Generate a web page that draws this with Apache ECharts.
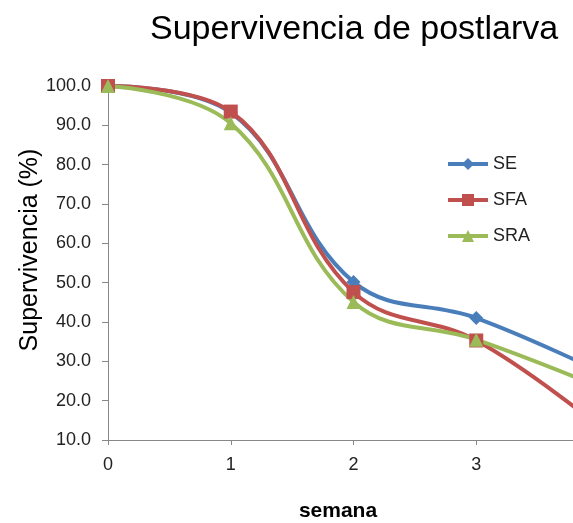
<!DOCTYPE html>
<html>
<head>
<meta charset="utf-8">
<script src="https://cdn.jsdelivr.net/npm/echarts@6/dist/echarts.min.js"></script>
<style>
html, body { margin: 0; padding: 0; background: #fff; overflow: hidden; width: 573px; height: 523px; }
/* the drawing is wider than the window so week 4 falls just past the right edge */
#chart { width: 610px; height: 523px; }
</style>
</head>
<body>
<div id="chart"></div>
<script>
// Survival (%) of postlarvae per week for each treatment
const semanas = [0, 1, 2, 3, 4];
const seValues = [100.0, 93.2, 50.2, 41.0, 27.5];
const sfaValues = [100.0, 93.5, 47.6, 35.3, 13.5];
const sraValues = [100.0, 90.5, 45.1, 35.5, 23.5];
const yTicks = { min: 10, max: 100, step: 10 };

const FONT = '"Liberation Sans", Arial, sans-serif';

function pairs(values) {
  return semanas.map((s, i) => [s, values[i]]);
}

function lineSeries(name, values, color, symbol, size) {
  return {
    name: name,
    type: 'line',
    data: pairs(values),
    smooth: 0.4,
    symbol: symbol,
    symbolSize: size,
    lineStyle: { width: 4, color: color },
    itemStyle: { color: color },
    emphasis: { disabled: true }
  };
}

const chart = echarts.init(document.getElementById('chart'), null, { renderer: 'canvas' });

chart.setOption({
  animation: false,
  backgroundColor: '#ffffff',
  title: [
    {
      text: 'Supervivencia de postlarva',
      left: 145,
      top: 8,
      textStyle: { fontFamily: FONT, fontSize: 34, fontWeight: 'normal', color: '#000' }
    },
    {
      text: 'semana',
      left: 333,
      top: 496,
      textAlign: 'center',
      textStyle: { fontFamily: FONT, fontSize: 21, fontWeight: 'bold', color: '#000' }
    }
  ],
  legend: {
    orient: 'vertical',
    left: 441,
    top: 150,
    itemGap: 18,
    itemWidth: 40,
    itemHeight: 15,
    lineStyle: { width: 4 },
    textStyle: { fontFamily: FONT, fontSize: 18, color: '#222' },
    data: ['SE', 'SFA', 'SRA']
  },
  grid: { left: 108, width: 491, top: 86, bottom: 83, containLabel: false },
  xAxis: {
    type: 'value',
    min: 0,
    max: 4,
    interval: 1,
    axisLine: { lineStyle: { color: '#888', width: 1 } },
    axisTick: { show: true, length: 5, lineStyle: { color: '#888' } },
    axisLabel: { fontFamily: FONT, fontSize: 18, color: '#222', margin: 16 },
    splitLine: { show: false }
  },
  yAxis: {
    type: 'value',
    min: yTicks.min,
    max: yTicks.max,
    interval: yTicks.step,
    name: 'Supervivencia (%)',
    nameLocation: 'middle',
    nameGap: 65,
    nameMoveOverlap: false,
    nameTextStyle: { fontFamily: FONT, fontSize: 25, color: '#000', padding: [0, 0, 0, 26] },
    axisLine: { show: true, lineStyle: { color: '#888', width: 1 } },
    axisTick: { show: true, length: 6, lineStyle: { color: '#888' } },
    axisLabel: {
      fontFamily: FONT, fontSize: 18, color: '#222', margin: 17,
      formatter: v => v.toFixed(1)
    },
    splitLine: { show: false }
  },
  series: [
    lineSeries('SE', seValues, '#4a7ebb', 'diamond', 14),
    lineSeries('SFA', sfaValues, '#c0504d', 'rect', 14),
    lineSeries('SRA', sraValues, '#9bbb59', 'triangle', 14)
  ]
});
</script>
</body>
</html>
